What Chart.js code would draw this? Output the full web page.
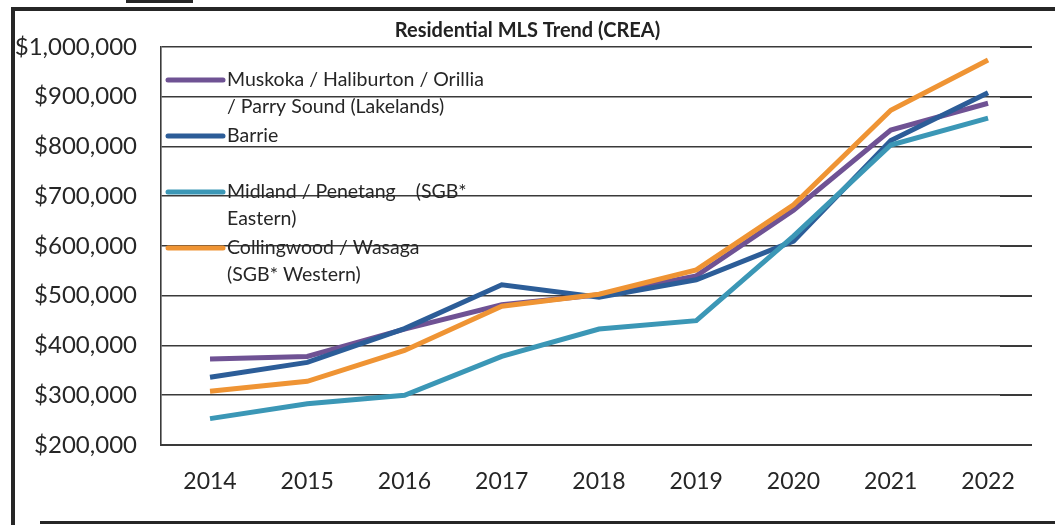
<!DOCTYPE html>
<html>
<head>
<meta charset="utf-8">
<script src="https://cdn.jsdelivr.net/npm/chart.js@4"></script>
<style>
  html, body { margin: 0; padding: 0; background: #fff; }
  #wrap { position: relative; width: 1055px; height: 525px; overflow: hidden; }
  .bar { position: absolute; background: #262626; }
</style>
</head>
<body>
<div id="wrap">
  <canvas id="mlsChart" width="1055" height="525"></canvas>
  <!-- scanned page frame -->
  <div class="bar" style="left:11px;top:7px;width:4px;height:518px"></div>
  <div class="bar" style="left:11px;top:7px;width:1044px;height:4px"></div>
  <div class="bar" style="left:40px;top:521px;width:1015px;height:3px"></div>
  <div class="bar" style="left:126px;top:0px;width:67px;height:3px"></div>
</div>
<script>
// years on the x axis
const years = [2014, 2015, 2016, 2017, 2018, 2019, 2020, 2021, 2022]

// average residential MLS price per region
const muskoka     = [373000, 378000, 433000, 482000, 502000, 540000, 672000, 833000, 887000]
const barrie      = [336000, 366000, 434000, 522000, 497000, 532000, 610000, 812000, 908000]
const midland     = [253000, 283000, 300000, 378000, 433000, 450000, 620000, 803000, 857000]
const collingwood = [308000, 328000, 390000, 479000, 503000, 552000, 683000, 873000, 974000]

// legend text, one entry per line
const seriesNames = [
    ['Muskoka / Haliburton / Orillia', '/ Parry Sound (Lakelands)'],
    ['Barrie'],
    ['Midland / Penetang    (SGB*', 'Eastern)'],
    ['Collingwood / Wasaga', '(SGB* Western)']
]
const seriesColors = ['#6f5294', '#2c5d98', '#3b97b6', '#ef9434']

const yTicks = [200000, 300000, 400000, 500000, 600000, 700000, 800000, 900000, 1000000]

const gridColor = '#3a3a3a'
const textColor = '#262626'

function toPoints(vals){
    return vals.map((v, i) => ({x: years[i], y: v}))
}

// legend drawn inside the plot, top-left, with multi-line labels
const insideLegend = {
    id: 'insideLegend',
    afterDraw(chart){
        const ctx = chart.ctx
        const area = chart.chartArea
        const x0 = area.left + 7
        const rowY = [33, 89, 145, 201]   // offsets from the top of the plot
        ctx.save()
        ctx.font = '19.5px Lato'
        ctx.textBaseline = 'middle'
        ctx.fillStyle = textColor
        seriesNames.forEach((lines, i) => {
            const y = area.top + rowY[i]
            ctx.strokeStyle = seriesColors[i]
            ctx.lineWidth = 5
            ctx.lineCap = 'round'
            ctx.beginPath()
            ctx.moveTo(x0, y)
            ctx.lineTo(x0 + 55, y)
            ctx.stroke()
            lines.forEach((t, j) => ctx.fillText(t, x0 + 59, y + j * 27))
        })
        ctx.restore()
    }
}

const datasets = [muskoka, barrie, midland, collingwood].map((vals, i) => ({
    label: seriesNames[i].join(' '),
    data: toPoints(vals),
    borderColor: seriesColors[i],
    backgroundColor: seriesColors[i],
    borderWidth: 5,
    pointRadius: 0,
    tension: 0,
    order: 4 - i
}))

const config = {
    type: 'line',
    data: { datasets: datasets },
    options: {
        responsive: false,
        animation: false,
        layout: { padding: { left: 0, right: 0, top: 0, bottom: 0 } },
        plugins: {
            legend: { display: false },
            tooltip: { enabled: false },
            title: {
                display: true,
                text: 'Residential MLS Trend (CREA)',
                color: '#222',
                font: { family: 'Lato', size: 20, weight: 'bold' },
                padding: { top: 19, bottom: 4 }
            }
        },
        scales: {
            x: {
                type: 'linear',
                min: 2013.496,
                max: 2022.123,
                grid: { display: false, drawTicks: false },
                border: { display: true, color: gridColor, width: 2 },
                afterBuildTicks: s => { s.ticks = years.map(v => ({value: v})) },
                afterFit: s => { s.height = 80 },
                ticks: {
                    padding: 23,
                    color: textColor,
                    font: { family: 'Lato', size: 23 },
                    callback: v => String(v)
                }
            },
            y: {
                position: 'left',
                min: 200000,
                max: 1000000,
                afterBuildTicks: s => { s.ticks = yTicks.map(v => ({value: v})) },
                afterFit: s => { s.width = 161 },
                grid: { color: gridColor, lineWidth: 1.6, drawTicks: false },
                border: { display: true, color: gridColor, width: 1.6 },
                ticks: {
                    padding: 24,
                    color: textColor,
                    font: { family: 'Lato', size: 24 },
                    callback: v => '$' + v.toLocaleString('en-US')
                }
            },
            y2: {
                position: 'right',
                min: 200000,
                max: 1000000,
                afterBuildTicks: s => { s.ticks = yTicks.map(v => ({value: v})) },
                afterFit: s => { s.width = 55 },
                grid: { color: gridColor, lineWidth: 2, drawOnChartArea: false, drawTicks: true, tickLength: 32 },
                border: { display: false },
                ticks: { display: false }
            }
        }
    },
    plugins: [insideLegend]
}

new Chart(document.getElementById('mlsChart'), config)
</script>
</body>
</html>
